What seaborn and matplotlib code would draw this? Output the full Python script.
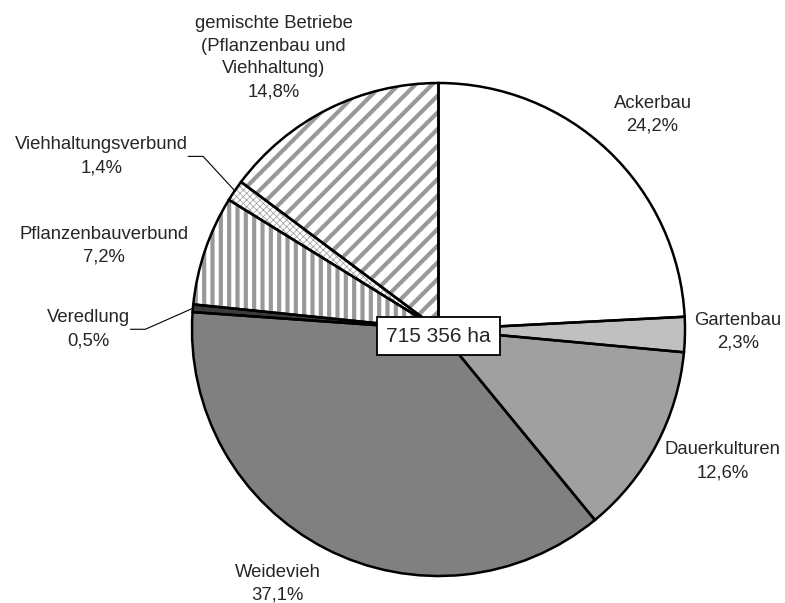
import numpy as np
import matplotlib.pyplot as plt
import seaborn as sns

# --- DATA ---
categories = ["Ackerbau", "Gartenbau", "Dauerkulturen", "Weidevieh", "Veredlung",
              "Pflanzenbauverbund", "Viehhaltungsverbund",
              "gemischte Betriebe\n(Pflanzenbau und\nViehhaltung)"]
shares = [24.2, 2.3, 12.6, 37.1, 0.5, 7.2, 1.4, 14.8]
total_label = "715 356 ha"
# ------------

# --- STYLE ---
fills = ["white", "#c0c0c0", "#a0a0a0", "#808080", "#3c3c3c", "white", "white", "white"]
hatches = [None, None, None, None, None, "||", "xxxxx", "//"]
hatch_lw = [0, 0, 0, 0, 0, 3.0, 0.5, 3.0]
# label placement: (radius factor, angle shift from wedge middle in degrees)
label_pos = [(1.23, -1.4), (1.215, 0.8), (1.27, 3.1), (1.22, -5.0),
             (1.25, 4.9), (1.40, 4.8), (1.235, -0.4), (1.29, 4.6)]
leader = [False, False, False, False, True, False, True, False]
# -------------

sns.set_theme(style="white")
plt.rcParams['font.family'] = ['Liberation Sans', 'DejaVu Sans']
plt.rcParams['hatch.linewidth'] = 3.0

W, H, R = 785, 603, 246.5
cx, cy = 438.5, 329.5

fig = plt.figure(figsize=(W / 100, H / 100), dpi=100)
ax = fig.add_axes([0, 0, 1, 1])

wedges, _ = ax.pie(shares, colors=fills, startangle=90, counterclock=False,
                   wedgeprops=dict(linewidth=0, edgecolor="none"))
for w, h, lw in zip(wedges, hatches, hatch_lw):
    if h:
        w.set_hatch(h)
        w.set_edgecolor("#999999")
        if hasattr(w, "set_hatch_linewidth"):
            w.set_hatch_linewidth(lw)

# black outlines on top
ax.pie(shares, colors=["none"] * len(shares), startangle=90, counterclock=False,
       wedgeprops=dict(linewidth=1.8, edgecolor="black", fill=False))

ax.set_xlim(-cx / R, (W - cx) / R)
ax.set_ylim(-(H - cy) / R, cy / R)
ax.set_aspect("equal")
ax.axis("off")

for w, name, v, (rf, dth), ld in zip(wedges, categories, shares, label_pos, leader):
    mid = np.deg2rad((w.theta1 + w.theta2) / 2)
    ang = mid + np.deg2rad(dth)
    tx, ty = rf * np.cos(ang), rf * np.sin(ang)
    txt = f"{name}\n{v:.1f}%".replace(".", ",")
    if ld:
        ex, ey = np.cos(mid), np.sin(mid)
        elbow = tx + 15 / R
        ax.plot([tx, elbow, ex], [ty, ty, ey], color="black", lw=0.8)
        ax.text(tx, ty, txt, ha="right", va="center", multialignment="center",
                fontsize=13.3, linespacing=1.45)
    else:
        ax.text(tx, ty, txt, ha="center", va="center", multialignment="center",
                fontsize=13.3, linespacing=1.45)

ax.text(0, -6.5 / R, total_label, ha="center", va="center", fontsize=15,
        bbox=dict(boxstyle="square,pad=0.45", fc="white", ec="black", lw=1.3))

fig.savefig("out.png", dpi=100)
